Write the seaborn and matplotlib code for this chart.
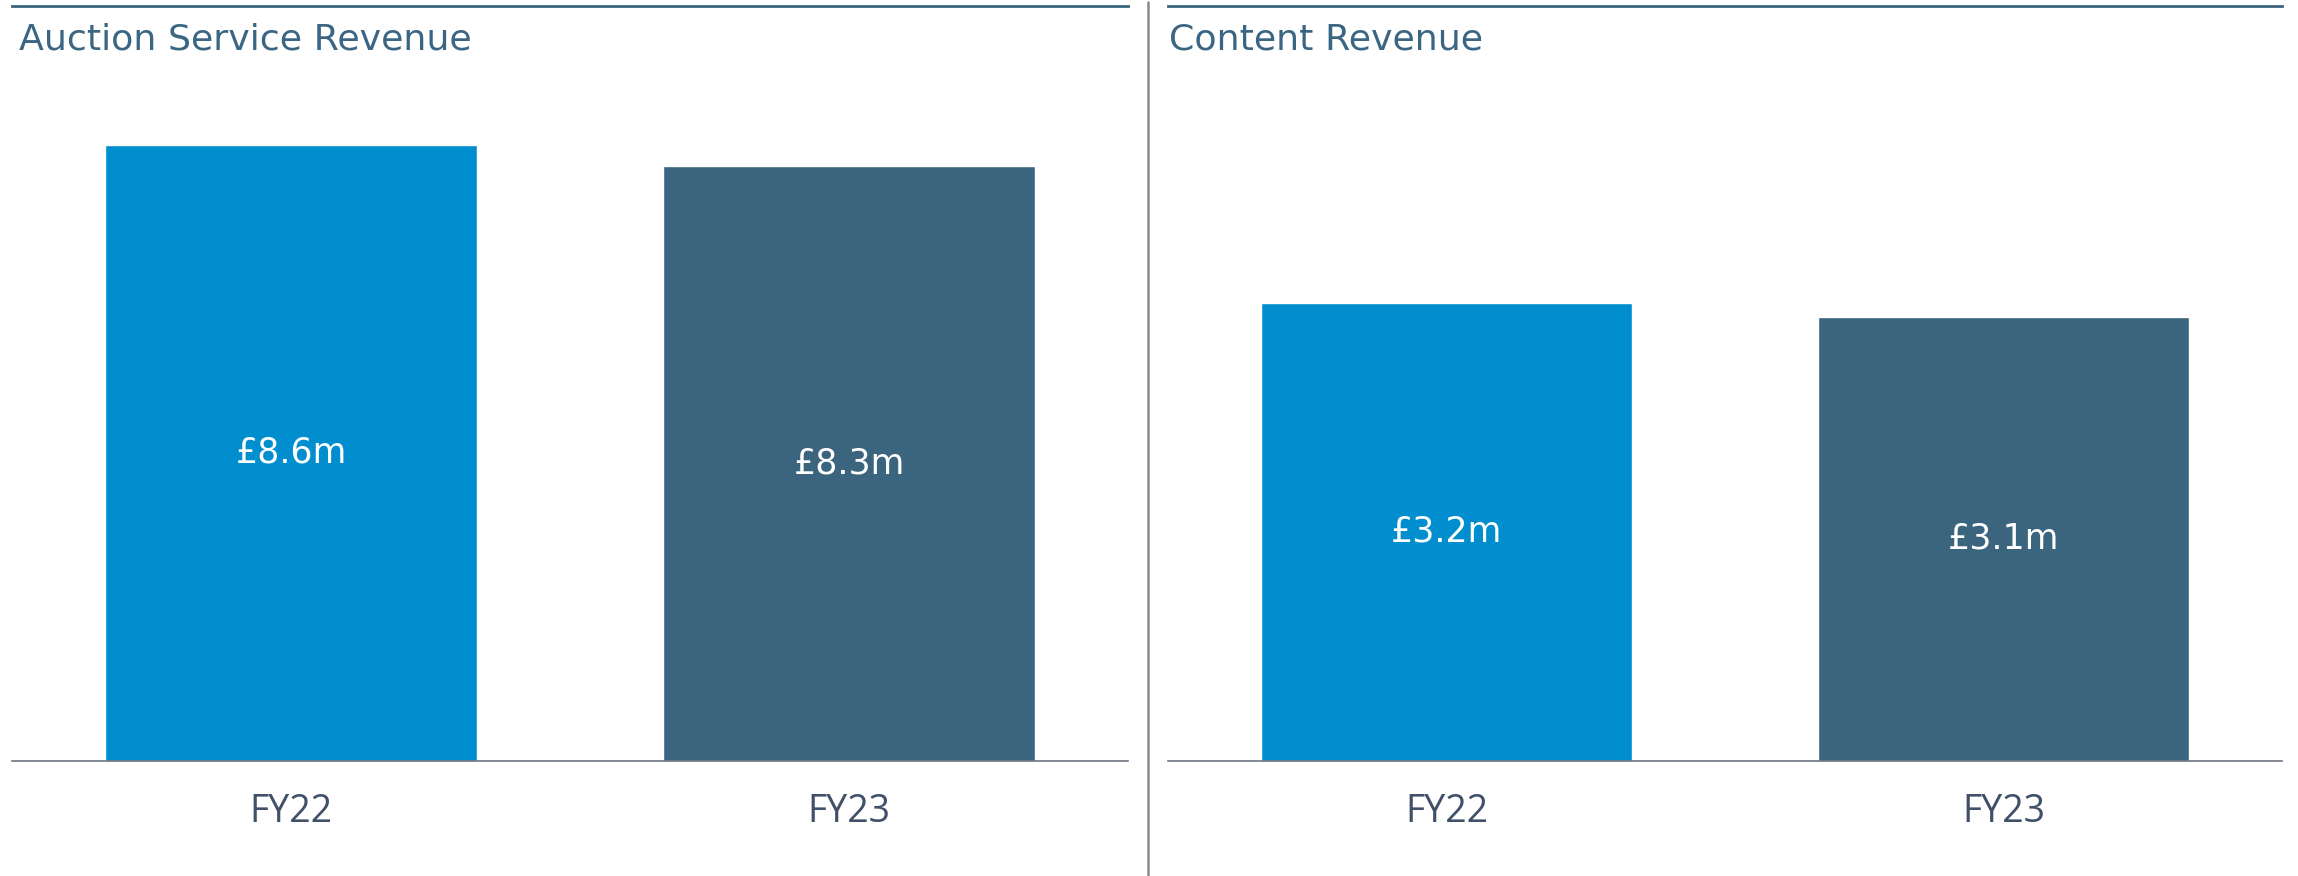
import matplotlib
matplotlib.use("Agg")
import matplotlib.pyplot as plt
import seaborn as sns
import pandas as pd
from matplotlib.lines import Line2D

categories = ["FY22", "FY23"]
auction_values = [8.6, 8.3]
content_values = [3.2, 3.1]
panel_titles = ["Auction Service Revenue", "Content Revenue"]
bar_colors = ["#008ECF", "#3B647E"]

sns.set_theme(style="white")
plt.rcParams['font.family'] = ['DejaVu Sans']

W, H = 2298, 876
fig = plt.figure(figsize=(W / 100, H / 100), dpi=100)

def px_rect(x0, x1, ytop, ybot):
    return [x0 / W, 1 - ybot / H, (x1 - x0) / W, (ybot - ytop) / H]

axes_specs = [
    (px_rect(12, 1128, 6, 761), auction_values, 10.54, panel_titles[0], 0.006),
    (px_rect(1168, 2282, 6, 761), content_values, 5.27, panel_titles[1], 0.001),
]

title_color = "#3B6683"
tick_color = "#3F5068"

for rect, vals, ytop, title, tx in axes_specs:
    ax = fig.add_axes(rect)
    df = pd.DataFrame({"period": categories, "value": vals})
    sns.barplot(data=df, x="period", y="value", hue="period", palette=bar_colors,
                legend=False, width=0.667, saturation=1, ax=ax)
    ax.set_xlim(-0.5, 1.5)
    ax.set_ylim(0, ytop)
    ax.set_xlabel("")
    ax.set_ylabel("")
    ax.set_yticks([])
    for s in ["left", "right"]:
        ax.spines[s].set_visible(False)
    ax.spines["top"].set_color("#3B647E")
    ax.spines["top"].set_linewidth(2.0)
    ax.spines["bottom"].set_color("#6E7480")
    ax.spines["bottom"].set_linewidth(1.2)
    ax.tick_params(axis="x", length=0, pad=23, labelsize=27, labelcolor=tick_color)
    for lab in ax.get_xticklabels():
        lab.set_fontfamily(['Open Sans', 'DejaVu Sans'])
    for i, v in enumerate(vals):
        ax.text(i, v / 2, f"£{v:.1f}m", ha="center", va="center",
                color="white", fontsize=25)
    ax.text(tx, 0.956, title, transform=ax.transAxes, ha="left", va="center",
            color=title_color, fontsize=26.2)

fig.add_artist(Line2D([1148 / W, 1148 / W], [0, 0.998], color="#8A8A8A", linewidth=1.8))

fig.savefig("out.png", dpi=100, facecolor="white")
